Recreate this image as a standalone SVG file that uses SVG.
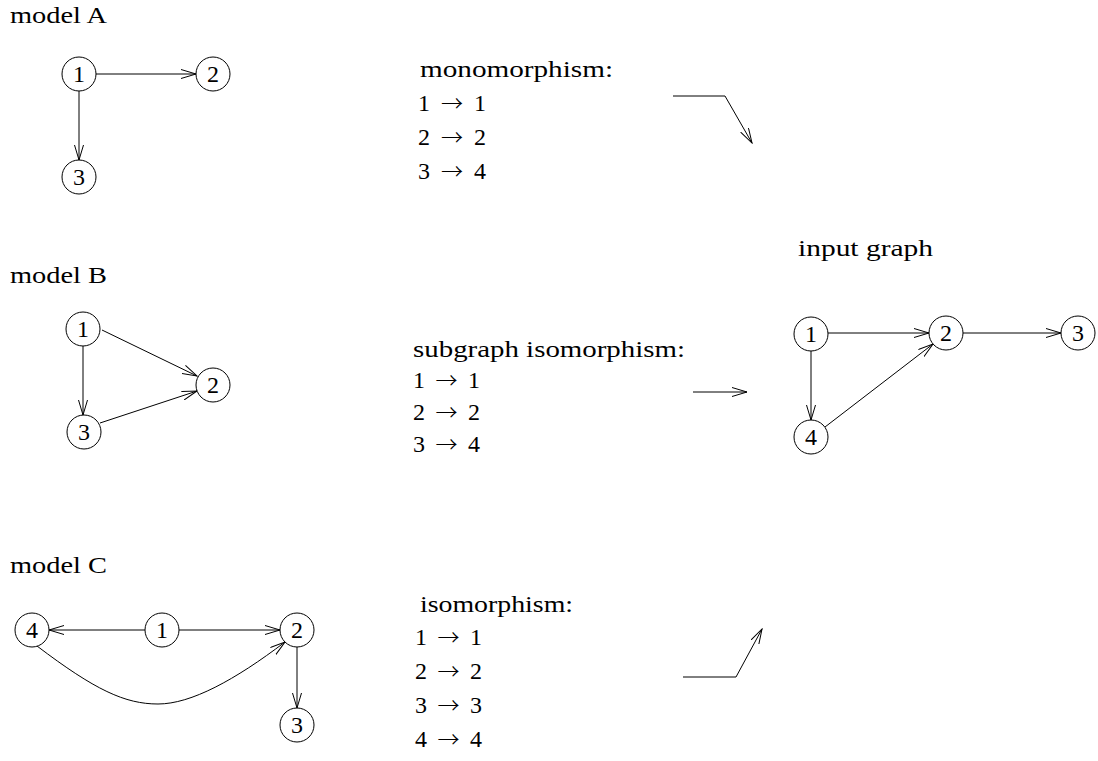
<svg xmlns="http://www.w3.org/2000/svg" width="1098" height="761" viewBox="0 0 1098 761">
<style>
text{font-family:"Liberation Serif","Times New Roman",serif;font-size:24px;fill:#000}
.ar{font-family:"Noto Sans CJK JP","Noto Sans CJK SC",sans-serif;font-size:22px;font-weight:300}
.n circle{fill:#fff;stroke:#000;stroke-width:1}
.n text{text-anchor:middle}
.e path,.e line,.e polyline{fill:none;stroke:#000;stroke-width:1;marker-end:url(#ah)}
</style>
<defs>
<marker id="ah" viewBox="0 0 16 10" markerWidth="16" markerHeight="10" refX="15" refY="5" orient="auto" markerUnits="userSpaceOnUse">
<path d="M0,0.5 L15,5 L0,9.5" fill="none" stroke="#000" stroke-width="1"/>
</marker>
</defs>
<rect width="1098" height="761" fill="#fff"/>

<g id="labels">
<text x="10" y="23" textLength="97" lengthAdjust="spacingAndGlyphs">model A</text>
<text x="10" y="283" textLength="97" lengthAdjust="spacingAndGlyphs">model B</text>
<text x="10" y="573" textLength="97" lengthAdjust="spacingAndGlyphs">model C</text>
<text x="798" y="256" textLength="135" lengthAdjust="spacingAndGlyphs">input graph</text>
</g>

<g id="map-mono">
<text x="420" y="77" textLength="193" lengthAdjust="spacingAndGlyphs">monomorphism:</text>
<text x="418" y="111" textLength="68" lengthAdjust="spacing">1 <tspan class="ar">→</tspan> 1</text>
<text x="418" y="145" textLength="68" lengthAdjust="spacing">2 <tspan class="ar">→</tspan> 2</text>
<text x="418" y="179" textLength="68" lengthAdjust="spacing">3 <tspan class="ar">→</tspan> 4</text>
</g>
<g id="map-sub">
<text x="413" y="357" textLength="272" lengthAdjust="spacingAndGlyphs">subgraph isomorphism:</text>
<text x="413" y="388" textLength="67" lengthAdjust="spacing">1 <tspan class="ar">→</tspan> 1</text>
<text x="413" y="420" textLength="67" lengthAdjust="spacing">2 <tspan class="ar">→</tspan> 2</text>
<text x="413" y="452" textLength="67" lengthAdjust="spacing">3 <tspan class="ar">→</tspan> 4</text>
</g>
<g id="map-iso">
<text x="420" y="612" textLength="153" lengthAdjust="spacingAndGlyphs">isomorphism:</text>
<text x="415" y="645" textLength="67" lengthAdjust="spacing">1 <tspan class="ar">→</tspan> 1</text>
<text x="415" y="679" textLength="67" lengthAdjust="spacing">2 <tspan class="ar">→</tspan> 2</text>
<text x="415" y="713" textLength="67" lengthAdjust="spacing">3 <tspan class="ar">→</tspan> 3</text>
<text x="415" y="747" textLength="67" lengthAdjust="spacing">4 <tspan class="ar">→</tspan> 4</text>
</g>

<g id="connectors" class="e">
<line x1="96" y1="74" x2="196" y2="74"/>
<line x1="79" y1="91" x2="79" y2="160"/>
<line x1="102" y1="330" x2="197" y2="376"/>
<line x1="83" y1="346" x2="83" y2="415"/>
<line x1="100" y1="423" x2="197" y2="391"/>
<line x1="145" y1="630" x2="49" y2="630"/>
<line x1="179" y1="630" x2="280" y2="630"/>
<line x1="297" y1="647" x2="297" y2="708"/>
<path d="M37,646 C95,690 125,704 158,704 S235,680 285,642"/>
<line x1="828" y1="333" x2="929" y2="333"/>
<line x1="963" y1="333" x2="1061" y2="333"/>
<line x1="811" y1="351" x2="811" y2="420"/>
<line x1="825" y1="427" x2="933" y2="344"/>
<polyline points="673,96 725,96 752,143"/>
<line x1="693" y1="392" x2="747" y2="392"/>
<polyline points="683,677 736,677 762,629"/>
</g>

<g id="A1" class="n"><circle cx="79" cy="74" r="17"/><text x="79" y="82">1</text></g>
<g id="A2" class="n"><circle cx="213" cy="74" r="17"/><text x="213" y="82">2</text></g>
<g id="A3" class="n"><circle cx="79" cy="177" r="17"/><text x="79" y="185">3</text></g>

<g id="B1" class="n"><circle cx="83" cy="329" r="17"/><text x="83" y="337">1</text></g>
<g id="B2" class="n"><circle cx="213" cy="385" r="17"/><text x="213" y="393">2</text></g>
<g id="B3" class="n"><circle cx="84" cy="432" r="17"/><text x="84" y="440">3</text></g>

<g id="C4" class="n"><circle cx="32" cy="630" r="17"/><text x="32" y="638">4</text></g>
<g id="C1" class="n"><circle cx="162" cy="630" r="17"/><text x="162" y="638">1</text></g>
<g id="C2" class="n"><circle cx="297" cy="630" r="17"/><text x="297" y="638">2</text></g>
<g id="C3" class="n"><circle cx="297" cy="725" r="17"/><text x="297" y="733">3</text></g>

<g id="G1" class="n"><circle cx="811" cy="334" r="17"/><text x="811" y="342">1</text></g>
<g id="G2" class="n"><circle cx="946" cy="333" r="17"/><text x="946" y="341">2</text></g>
<g id="G3" class="n"><circle cx="1078" cy="333" r="17"/><text x="1078" y="341">3</text></g>
<g id="G4" class="n"><circle cx="811" cy="437" r="17"/><text x="811" y="445">4</text></g>
</svg>
